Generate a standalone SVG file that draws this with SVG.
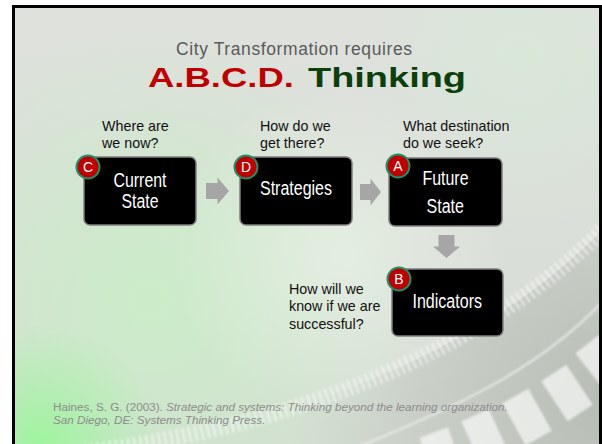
<svg xmlns="http://www.w3.org/2000/svg" width="602" height="444" viewBox="0 0 602 444">
  <style>
    .box{fill:#000;stroke:#7f7f7f;stroke-width:1.5}
    .badge{fill:#c00000;stroke:#1e9068;stroke-width:2}
    .badge-t{font-family:"Liberation Sans Narrow","Liberation Sans",Arial,sans-serif;font-size:14px;fill:#fff;text-anchor:middle}
    .label{font-family:"Liberation Sans Narrow","Liberation Sans",Arial,sans-serif;font-size:19.5px;fill:#fff}
    .q{font-family:"Liberation Sans",Arial,sans-serif;font-size:14.3px;fill:#111}
    .arrow{fill:#a6a6a6}
    .cite{font-family:"Liberation Sans",Arial,sans-serif;font-size:11.7px;fill:#8c8c8c}
  </style>
  <defs>
    <linearGradient id="base" x1="0" y1="0" x2="0" y2="1">
      <stop offset="0" stop-color="#dfe1dd"/>
      <stop offset="1" stop-color="#d6dcd4"/>
    </linearGradient>
    <radialGradient id="greenGlow" cx="150" cy="300" r="280" gradientUnits="userSpaceOnUse">
      <stop offset="0" stop-color="#c8efc6" stop-opacity="0.85"/>
      <stop offset="1" stop-color="#c8efc6" stop-opacity="0"/>
    </radialGradient>
    <radialGradient id="whiteGlow" cx="340" cy="255" r="170" gradientUnits="userSpaceOnUse">
      <stop offset="0" stop-color="#eff7ec" stop-opacity="0.55"/>
      <stop offset="1" stop-color="#eff7ec" stop-opacity="0"/>
    </radialGradient>
    <radialGradient id="limeGlow" cx="40" cy="445" r="120" gradientUnits="userSpaceOnUse">
      <stop offset="0" stop-color="#9cf59c" stop-opacity="0.95"/>
      <stop offset="1" stop-color="#9cf59c" stop-opacity="0"/>
    </radialGradient>
    <radialGradient id="topRight" cx="520" cy="60" r="170" gradientUnits="userSpaceOnUse">
      <stop offset="0" stop-color="#d8e8d8" stop-opacity="0.9"/>
      <stop offset="1" stop-color="#d8e8d8" stop-opacity="0"/>
    </radialGradient>
    <radialGradient id="greyBand" cx="610" cy="400" r="320" gradientUnits="userSpaceOnUse">
      <stop offset="0" stop-color="#aeb3ac" stop-opacity="0.8"/>
      <stop offset="0.6" stop-color="#b9beb7" stop-opacity="0.45"/>
      <stop offset="1" stop-color="#c2c7c0" stop-opacity="0"/>
    </radialGradient>
    <filter id="soft" x="-20%" y="-20%" width="140%" height="140%">
      <feGaussianBlur stdDeviation="1.2"/>
    </filter>
    <clipPath id="slide">
      <rect x="15" y="8" width="585" height="436"/>
    </clipPath>
  </defs>

  <!-- page and slide frame -->
  <rect width="602" height="444" fill="#fff"/>
  <g clip-path="url(#slide)">
    <rect x="0" y="0" width="602" height="444" fill="url(#base)"/>
    <rect x="0" y="0" width="602" height="444" fill="url(#topRight)"/>
    <rect x="0" y="0" width="602" height="444" fill="url(#greenGlow)"/>
    <rect x="0" y="0" width="602" height="444" fill="url(#whiteGlow)"/>
    <!-- grey disc rim -->
    <path d="M60 455 C250 435 470 370 610 222 L610 450 L60 450 Z" fill="url(#greyBand)"/>
    <rect x="0" y="0" width="602" height="444" fill="url(#limeGlow)"/>
    <!-- fine ticks along the rim -->
    <path d="M60 455 C250 435 470 370 610 222" fill="none" stroke="#fff" stroke-width="16" stroke-dasharray="2.4 3.8" opacity="0.55" filter="url(#soft)"/>
    <!-- light groove line -->
    <path d="M350 450 C450 410 540 370 606 298" fill="none" stroke="#eef1ec" stroke-width="2.5" opacity="0.7" filter="url(#soft)"/>
    <!-- large blocks on the outer ring -->
    <g fill="#f4f6f3" opacity="0.75" filter="url(#soft)">
      <rect x="-15" y="-24" width="30" height="48" transform="translate(442 455) rotate(-20.3)"/>
      <rect x="-15" y="-24" width="30" height="48" transform="translate(485 437) rotate(-24.7)"/>
      <rect x="-15" y="-24" width="30" height="48" transform="translate(527 417) rotate(-29.1)"/>
      <rect x="-15" y="-24" width="30" height="48" transform="translate(567 393) rotate(-33.5)"/>
      <rect x="-15" y="-24" width="30" height="48" transform="translate(602 363) rotate(-37.9)"/>
    </g>
  </g>
  <rect x="13.5" y="6.5" width="587" height="450" fill="none" stroke="#000" stroke-width="3"/>

  <!-- heading -->
  <text x="176" y="55" font-family="'Liberation Sans',Arial,sans-serif" font-size="17.5" fill="#5a5a5a" textLength="236" lengthAdjust="spacing">City Transformation requires</text>
  <text x="148" y="87" font-family="'Liberation Sans',Arial,sans-serif" font-size="27" font-weight="bold" fill="#c00000" textLength="146" lengthAdjust="spacingAndGlyphs">A.B.C.D.</text>
  <text x="308" y="87" font-family="'Liberation Sans',Arial,sans-serif" font-size="27" font-weight="bold" fill="#0b3f0b" textLength="158" lengthAdjust="spacingAndGlyphs">Thinking</text>

  <!-- connectors -->
  <g id="connectors">
    <polygon class="arrow" points="206,183 217.5,183 217.5,177.5 229,191 217.5,204.5 217.5,199 206,199"/>
    <polygon class="arrow" points="360,184 370.5,184 370.5,178.5 381,192 370.5,205.5 370.5,200 360,200"/>
    <polygon class="arrow" points="438.5,235 454.5,235 454.5,246.5 460,246.5 446.5,258 433,246.5 438.5,246.5"/>
  </g>

  <!-- C: current state -->
  <g id="node-current">
    <text class="q" x="102" y="131">Where are</text>
    <text class="q" x="102" y="148">we now?</text>
    <rect class="box" x="84" y="157" width="112" height="68" rx="6"/>
    <text class="label" x="113.5" y="187" textLength="53" lengthAdjust="spacingAndGlyphs">Current</text>
    <text class="label" x="121.5" y="208" textLength="37" lengthAdjust="spacingAndGlyphs">State</text>
    <circle class="badge" cx="88" cy="167" r="11.5"/>
    <text class="badge-t" x="88" y="172">C</text>
  </g>

  <!-- D: strategies -->
  <g id="node-strategies">
    <text class="q" x="260" y="131">How do we</text>
    <text class="q" x="260" y="148">get there?</text>
    <rect class="box" x="240" y="157" width="112" height="68" rx="6"/>
    <text class="label" x="260" y="195" textLength="72" lengthAdjust="spacingAndGlyphs">Strategies</text>
    <circle class="badge" cx="246" cy="167" r="11.5"/>
    <text class="badge-t" x="246" y="172">D</text>
  </g>

  <!-- A: future state -->
  <g id="node-future">
    <text class="q" x="403" y="131">What destination</text>
    <text class="q" x="403" y="147.5">do we seek?</text>
    <rect class="box" x="389" y="158" width="113" height="68" rx="6"/>
    <text class="label" x="422.5" y="185" textLength="46" lengthAdjust="spacingAndGlyphs">Future</text>
    <text class="label" x="426.5" y="213" textLength="37.5" lengthAdjust="spacingAndGlyphs">State</text>
    <circle class="badge" cx="398" cy="166" r="11.5"/>
    <text class="badge-t" x="398" y="171">A</text>
  </g>

  <!-- B: indicators -->
  <g id="node-indicators">
    <text class="q" x="289" y="293.5">How will we</text>
    <text class="q" x="289" y="311">know if we are</text>
    <text class="q" x="289" y="328.5">successful?</text>
    <rect class="box" x="392" y="269" width="111" height="67" rx="6"/>
    <text class="label" x="412.5" y="308" textLength="69.5" lengthAdjust="spacingAndGlyphs">Indicators</text>
    <circle class="badge" cx="399" cy="279" r="11.5"/>
    <text class="badge-t" x="399" y="284">B</text>
  </g>

  <!-- reference -->
  <text class="cite" x="53" y="410.5">Haines, S. G. (2003). <tspan font-style="italic">Strategic and systems: Thinking beyond the learning organization.</tspan></text>
  <text class="cite" x="53" y="424" font-style="italic">San Diego, DE: Systems Thinking Press.</text>
</svg>
